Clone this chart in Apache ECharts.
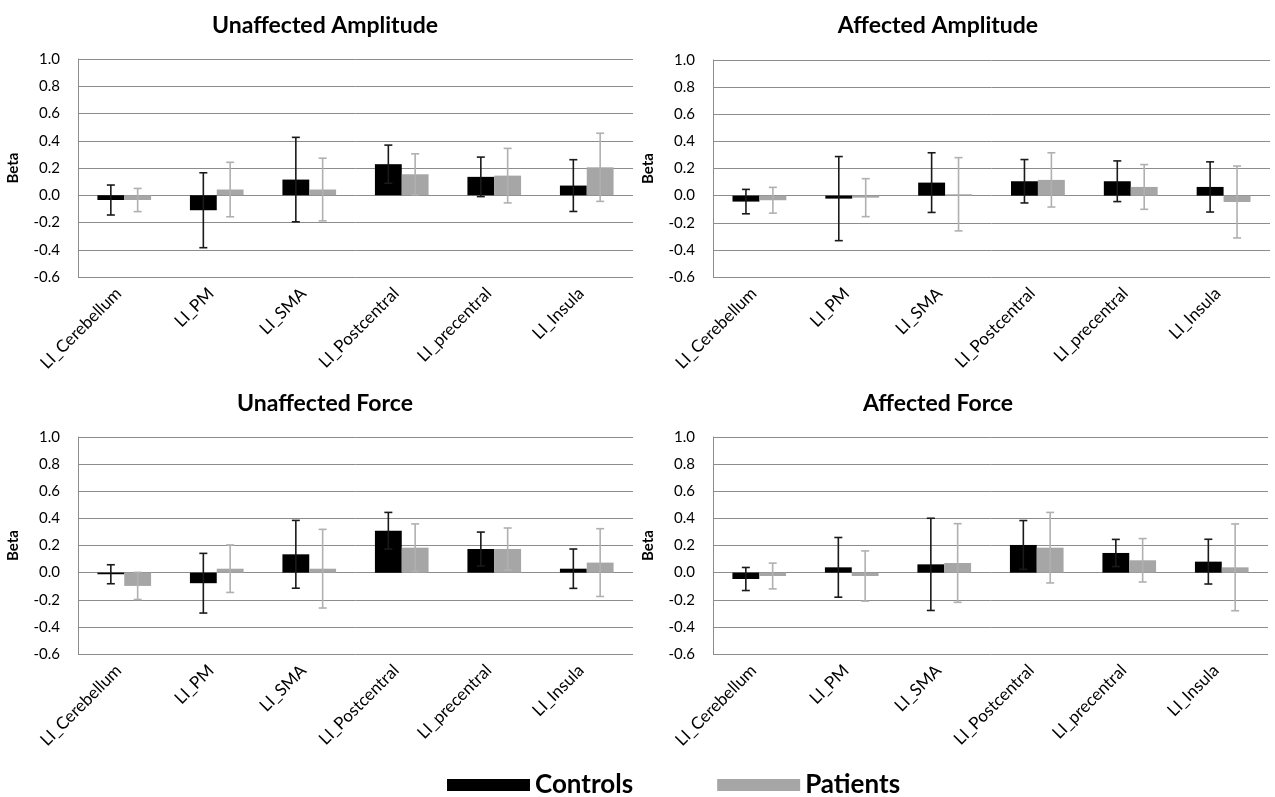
<!DOCTYPE html>
<html>
<head>
<meta charset="utf-8">
<script src="https://cdn.jsdelivr.net/npm/echarts@6/dist/echarts.min.js"></script>
<style>html,body{margin:0;padding:0;background:#fff;}#c{width:1275px;height:797px;}</style>
</head>
<body>
<div id="c"></div>
<script>
var categories = ['LI_Cerebellum','LI_PM','LI_SMA','LI_Postcentral','LI_precentral','LI_Insula'];
var yTicks = [-0.6,-0.4,-0.2,0.0,0.2,0.4,0.6,0.8,1.0];
var panelTitles = ['Unaffected Amplitude','Affected Amplitude','Unaffected Force','Affected Force'];

// Unaffected Amplitude
var uaControls    = [-0.035,-0.11, 0.115, 0.228, 0.135, 0.071];
var uaControlsErr = [ 0.11,  0.275,0.31,  0.14,  0.145, 0.19];
var uaPatients    = [-0.035, 0.042,0.042, 0.154, 0.144, 0.205];
var uaPatientsErr = [ 0.085, 0.2,  0.23,  0.15,  0.2,   0.25];
// Affected Amplitude
var aaControls    = [-0.044,-0.022,0.096, 0.106, 0.106, 0.064];
var aaControlsErr = [ 0.09,  0.31, 0.22,  0.16,  0.15,  0.185];
var aaPatients    = [-0.034,-0.015,0.01,  0.116, 0.064,-0.047];
var aaPatientsErr = [ 0.095, 0.14, 0.27,  0.2,   0.165, 0.265];
// Unaffected Force
var ufControls    = [-0.012,-0.078,0.135, 0.309, 0.174, 0.029];
var ufControlsErr = [ 0.07,  0.22, 0.25,  0.135, 0.125, 0.145];
var ufPatients    = [-0.098, 0.029,0.029, 0.184, 0.174, 0.074];
var ufPatientsErr = [ 0.1,   0.175,0.29,  0.175, 0.155, 0.25];
// Affected Force
var afControls    = [-0.047, 0.039,0.061, 0.204, 0.145, 0.081];
var afControlsErr = [ 0.085, 0.22, 0.34,  0.18,  0.1,   0.165];
var afPatients    = [-0.025,-0.025,0.071, 0.184, 0.091, 0.039];
var afPatientsErr = [ 0.095, 0.185,0.29,  0.26,  0.16,  0.32];

var panels = [
  {c: uaControls, ce: uaControlsErr, p: uaPatients, pe: uaPatientsErr},
  {c: aaControls, ce: aaControlsErr, p: aaPatients, pe: aaPatientsErr},
  {c: ufControls, ce: ufControlsErr, p: ufPatients, pe: ufPatientsErr},
  {c: afControls, ce: afControlsErr, p: afPatients, pe: afPatientsErr}
];

var FONT = 'Lato, "Open Sans", sans-serif';
var BAR_FRAC = 0.29;
var grids = [
  {left: 78,  top: 59,  width: 555, height: 218},
  {left: 713, top: 60,  width: 557, height: 217},
  {left: 78,  top: 437, width: 555, height: 217},
  {left: 713, top: 437, width: 555, height: 217}
];
var titlePos = [
  {x: 320, y: 9}, {x: 933, y: 9}, {x: 320, y: 387}, {x: 933, y: 387}
];

function errRender(sign, color) {
  return function (params, api) {
    var idx = api.value(0), mean = api.value(1), err = api.value(2);
    var band = api.size([1, 0])[0];
    var base = api.coord([idx, mean]);
    var cx = base[0] + sign * band * BAR_FRAC / 2;
    var hi = api.coord([idx, mean + err])[1];
    var lo = api.coord([idx, mean - err])[1];
    var cap = 4;
    var st = {stroke: color, lineWidth: 1.6};
    return {
      type: 'group',
      children: [
        {type: 'line', shape: {x1: cx, y1: hi, x2: cx, y2: lo}, style: st},
        {type: 'line', shape: {x1: cx - cap, y1: hi, x2: cx + cap, y2: hi}, style: st},
        {type: 'line', shape: {x1: cx - cap, y1: lo, x2: cx + cap, y2: lo}, style: st}
      ]
    };
  };
}

var option = {
  animation: false,
  backgroundColor: '#fff',
  title: panelTitles.map(function (t, i) {
    return {text: t, left: titlePos[i].x, top: titlePos[i].y, textAlign: 'center',
      textStyle: {fontFamily: FONT, fontWeight: 'bold', fontSize: 23, color: '#000'}};
  }),
  legend: {
    data: ['Controls', 'Patients'],
    left: 442, top: 767,
    icon: 'rect', itemWidth: 83, itemHeight: 12, itemGap: 84,
    textStyle: {fontFamily: FONT, fontWeight: 'bold', fontSize: 26, color: '#000'}
  },
  grid: grids,
  xAxis: grids.map(function (g, i) {
    return {
      type: 'category', gridIndex: i, data: categories,
      axisLine: {show: false}, axisTick: {show: false},
      axisLabel: {rotate: 45, interval: 0, margin: 8, fontFamily: FONT, fontSize: 17, color: '#000',
        padding: [0, 8, 0, 0]}
    };
  }),
  yAxis: grids.map(function (g, i) {
    return {
      type: 'value', gridIndex: i, min: yTicks[0], max: yTicks[yTicks.length - 1], interval: 0.2,
      name: 'Beta', nameLocation: 'middle', nameRotate: 90, nameGap: 57,
      nameTextStyle: {fontFamily: FONT, fontWeight: 'bold', fontSize: 15, color: '#000'},
      axisLine: {show: true, lineStyle: {color: '#8c8c8c', width: 1}},
      axisTick: {show: false},
      axisLabel: {fontFamily: FONT, fontSize: 15, color: '#000', margin: 18,
        formatter: function (v) { return v.toFixed(1); }},
      splitLine: {show: true, lineStyle: {color: '#8c8c8c', width: 1}}
    };
  }),
  series: []
};

panels.forEach(function (p, i) {
  option.series.push({
    name: 'Controls', type: 'bar', xAxisIndex: i, yAxisIndex: i, data: p.c,
    barWidth: (BAR_FRAC * 100) + '%', barGap: '0%', itemStyle: {color: '#000'}
  });
  option.series.push({
    name: 'Patients', type: 'bar', xAxisIndex: i, yAxisIndex: i, data: p.p,
    barWidth: (BAR_FRAC * 100) + '%', barGap: '0%', itemStyle: {color: '#a6a6a6'}
  });
  option.series.push({
    name: 'Controls SD', type: 'custom', xAxisIndex: i, yAxisIndex: i, z: 5,
    renderItem: errRender(-1, '#1a1a1a'), encode: {x: 0, y: 1},
    data: categories.map(function (c, k) { return [k, p.c[k], p.ce[k]]; })
  });
  option.series.push({
    name: 'Patients SD', type: 'custom', xAxisIndex: i, yAxisIndex: i, z: 5,
    renderItem: errRender(1, '#b0b0b0'), encode: {x: 0, y: 1},
    data: categories.map(function (c, k) { return [k, p.p[k], p.pe[k]]; })
  });
});

var chart = echarts.init(document.getElementById('c'), null, {renderer: 'canvas'});
chart.setOption(option);
</script>
</body>
</html>
